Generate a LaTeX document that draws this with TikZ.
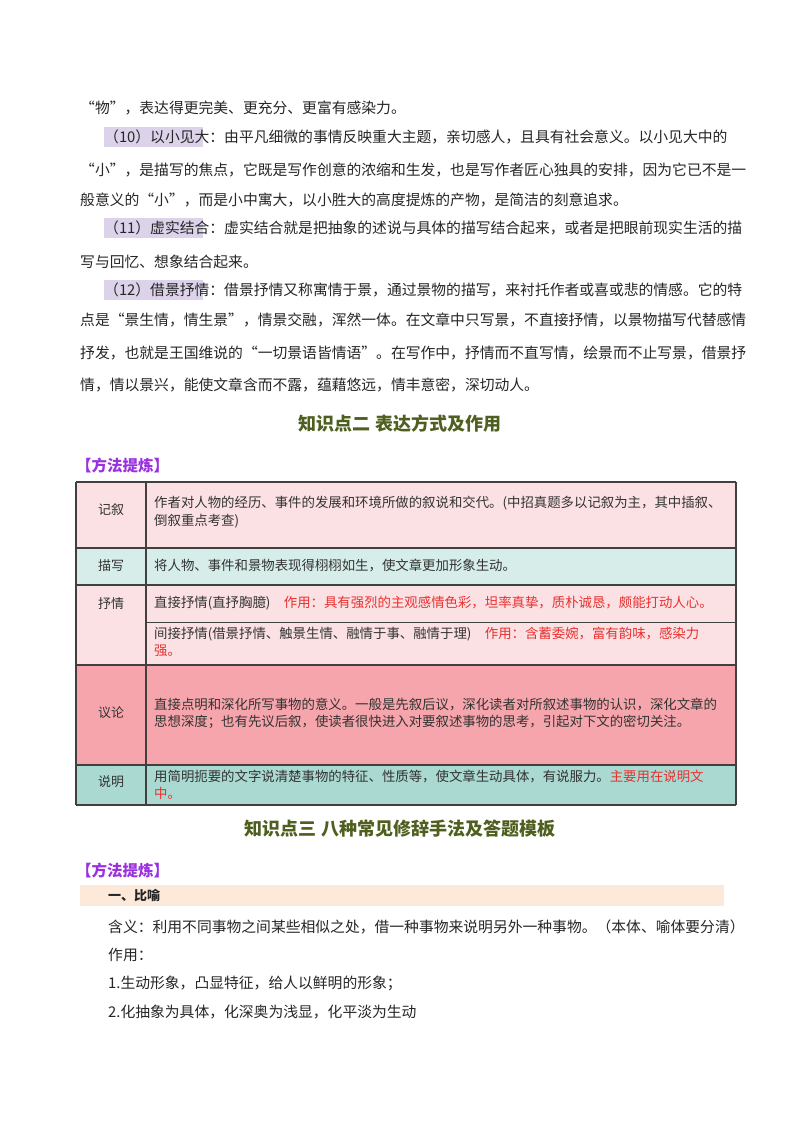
\documentclass[tikz,border=0pt]{standalone}
\usepackage{fontspec}
\setmainfont{Noto Sans CJK SC}
\definecolor{hl}{HTML}{DCD3EA}
\definecolor{headg}{HTML}{4F5F1F}
\definecolor{purp}{HTML}{9B30E0}
\definecolor{pinkA}{HTML}{FBE1E4}
\definecolor{tealA}{HTML}{D6EDE9}
\definecolor{pinkB}{HTML}{F5A5AB}
\definecolor{tealB}{HTML}{A9D9D1}
\definecolor{redt}{HTML}{E8312F}
\definecolor{peach}{HTML}{FDE9D9}
\begin{document}
\begin{tikzpicture}[x=1pt,y=-1pt,
  body/.style={anchor=west,inner sep=0pt,font=\fontsize{14.8}{17}\selectfont,text=black!85},
  tb/.style={anchor=west,inner sep=0pt,font=\fontsize{13.4}{15}\selectfont,text=black!80},
  lab/.style={anchor=center,inner sep=0pt,font=\fontsize{13}{15}\selectfont,text=black!80},
  head/.style={anchor=center,inner sep=0pt,font=\fontsize{18}{21}\selectfont\bfseries,text=headg},
  meth/.style={anchor=west,inner sep=0pt,font=\fontsize{15.5}{18}\selectfont\bfseries,text=purp},
  rowline/.style={draw=black!75,line width=1.6pt}]
\useasboundingbox (0,0) rectangle (800,1132);
\fill[white] (0,0) rectangle (800,1132);
% highlights
\fill[hl] (104,127) rectangle (203,147);
\fill[hl] (104,218) rectangle (203,238);
\fill[hl] (104,280) rectangle (203,300);
\node[body] (l1) at (80,108) {“物”，表达得更完美、更充分、更富有感染力。};
\node[body] (l2) at (104,137) {（10）以小见大：由平凡细微的事情反映重大主题，亲切感人，且具有社会意义。以小见大中的};
\node[body] (l3) at (80,170) {“小”，是描写的焦点，它既是写作创意的浓缩和生发，也是写作者匠心独具的安排，因为它已不是一};
\node[body] (l4) at (80,200) {般意义的“小”，而是小中寓大，以小胜大的高度提炼的产物，是简洁的刻意追求。};
\node[body] (l5) at (104,228) {（11）虚实结合：虚实结合就是把抽象的述说与具体的描写结合起来，或者是把眼前现实生活的描};
\node[body] (l6) at (80,262) {写与回忆、想象结合起来。};
\node[body] (l7) at (104,290) {（12）借景抒情：借景抒情又称寓情于景，通过景物的描写，来衬托作者或喜或悲的情感。它的特};
\node[body] (l8) at (80,320) {点是“景生情，情生景”，情景交融，浑然一体。在文章中只写景，不直接抒情，以景物描写代替感情};
\node[body] (l9) at (80,353) {抒发，也就是王国维说的“一切景语皆情语”。在写作中，抒情而不直写情，绘景而不止写景，借景抒};
\node[body] (l10) at (80,385) {情，情以景兴，能使文章含而不露，蕴藉悠远，情丰意密，深切动人。};
\node[head] (h2) at (400,424) {知识点二\ 表达方式及作用};
\node[meth] (m1) at (76,466) {【方法提炼】};
% table fills
\fill[pinkA] (76,482) rectangle (736,548);
\fill[tealA] (76,548) rectangle (736,585);
\fill[pinkA] (76,585) rectangle (736,665);
\fill[pinkB] (76,665) rectangle (736,765);
\fill[tealB] (76,765) rectangle (736,805);
\foreach \yy in {482,548,585,665,765,805} \draw[rowline] (76,\yy) -- (736,\yy);
\draw[draw=black!75,line width=1pt] (146,622) -- (736,622);
\draw[rowline] (76,482) -- (76,805);
\draw[rowline] (736,482) -- (736,805);
\draw[draw=black!75,line width=1.2pt] (146,482) -- (146,805);
\node[lab] (c1) at (111,510) {记叙};
\node[lab] (c2) at (111,566) {描写};
\node[lab] (c3) at (111,604) {抒情};
\node[lab] (c4) at (111,713) {议论};
\node[lab] (c5) at (111,782) {说明};
\node[tb] (t1) at (154,503) {作者对人物的经历、事件的发展和环境所做的叙说和交代。(中招真题多以记叙为主，其中插叙、};
\node[tb] (t1b) at (154,521) {倒叙重点考查)};
\node[tb] (t2) at (154,565) {将人物、事件和景物表现得栩栩如生，使文章更加形象生动。};
\node[tb] (t3) at (154,603) {直接抒情(直抒胸臆)\quad\textcolor{redt}{作用：具有强烈的主观感情色彩，坦率真挚，质朴诚恳，颇能打动人心。}};
\node[tb] (t4) at (154,634) {间接抒情(借景抒情、触景生情、融情于事、融情于理)\quad\textcolor{redt}{作用：含蓄委婉，富有韵味，感染力}};
\node[tb] (t4b) at (154,651) {\textcolor{redt}{强。}};
\node[tb] (t5) at (154,704) {直接点明和深化所写事物的意义。一般是先叙后议，深化读者对所叙述事物的认识，深化文章的};
\node[tb] (t5b) at (154,722) {思想深度；也有先议后叙，使读者很快进入对要叙述事物的思考，引起对下文的密切关注。};
\node[tb] (t6) at (154,776) {用简明扼要的文字说清楚事物的特征、性质等，使文章生动具体，有说服力。\textcolor{redt}{主要用在说明文}};
\node[tb] (t6b) at (154,793) {\textcolor{redt}{中。}};
\node[head] (h3) at (400,829) {知识点三\ 八种常见修辞手法及答题模板};
\node[meth] (m2) at (76,871) {【方法提炼】};
\fill[peach] (80,885) rectangle (724,906);
\node[body,font=\fontsize{13}{15}\selectfont\bfseries] (b1) at (108,895) {一、比喻};
\node[body] (s1) at (108,927) {含义：利用不同事物之间某些相似之处，借一种事物来说明另外一种事物。（本体、喻体要分清）};
\node[body] (s2) at (108,955) {作用：};
\node[body] (s3) at (108,983) {1.生动形象，凸显特征，给人以鲜明的形象；};
\node[body] (s4) at (108,1012) {2.化抽象为具体，化深奥为浅显，化平淡为生动};
\end{tikzpicture}
\end{document}
